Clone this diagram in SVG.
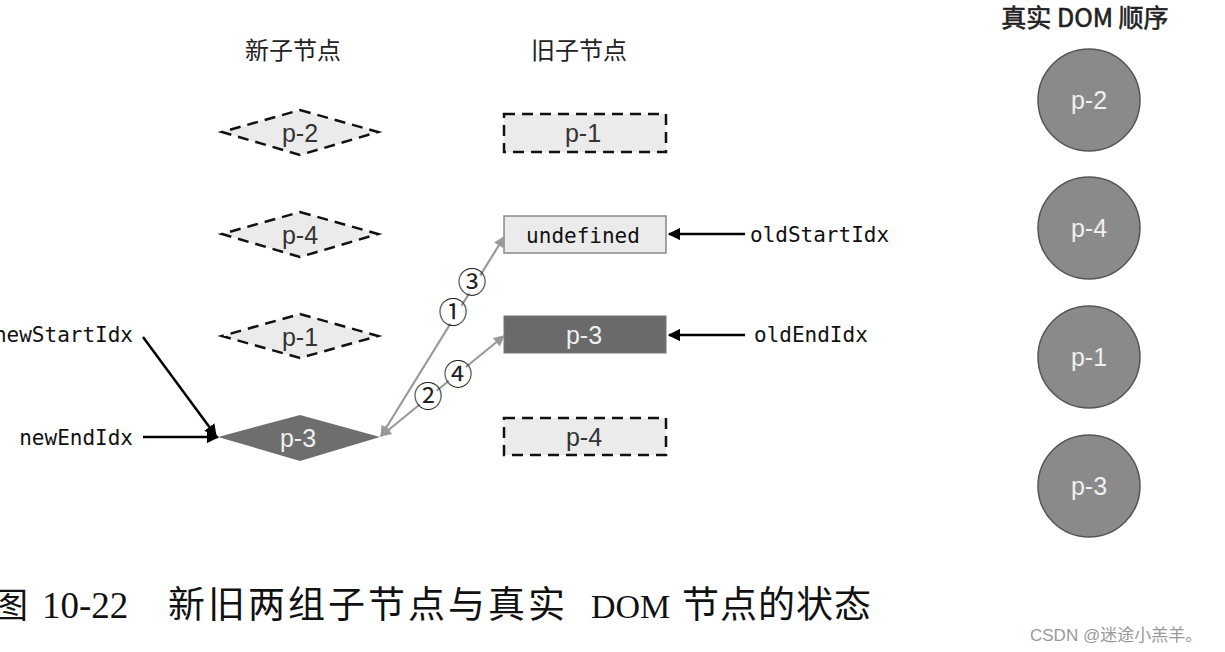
<svg xmlns="http://www.w3.org/2000/svg" width="1225" height="652" viewBox="0 0 1225 652">
<style>
.dash{fill:#ebebeb;stroke:#111;stroke-width:2.5;stroke-dasharray:11,7}
.lbl{font-family:"Liberation Sans",Arial,sans-serif;font-size:25px;fill:#333;text-anchor:middle}
.wl{font-family:"Liberation Sans",Arial,sans-serif;font-size:25px;fill:#f0f0f0;text-anchor:middle}
.mono{font-family:"DejaVu Sans Mono","Liberation Mono",monospace;font-size:21px;fill:#111}
.hd{font-family:"Noto Sans CJK SC",sans-serif;font-size:24px;fill:#222;text-anchor:middle}
.dom{fill:#8a8a8a;stroke:#555;stroke-width:1.5}
.blk{stroke:#000;stroke-width:2.5;fill:none}
.gry{stroke:#999;stroke-width:2.2;fill:none}
.num{font-family:"Noto Sans CJK SC","DejaVu Sans",sans-serif;font-size:29px;fill:#222;text-anchor:middle}
</style>
<defs>
<marker id="ab" viewBox="0 0 10 10" refX="9" refY="5" markerWidth="5" markerHeight="5" orient="auto-start-reverse"><path d="M0,0 L10,5 L0,10 z" fill="#000"/></marker>
<marker id="ag" viewBox="0 0 10 10" refX="9" refY="5" markerWidth="6" markerHeight="5" orient="auto-start-reverse"><path d="M0,0 L10,5 L0,10 z" fill="#999"/></marker>
</defs>
<rect width="1225" height="652" fill="#fff"/>

<text class="hd" x="293" y="59">新子节点</text>
<text class="hd" x="579" y="59">旧子节点</text>
<text x="1085" y="27" style="font-family:'Noto Sans CJK SC',sans-serif;font-size:25px;fill:#222;stroke:#222;stroke-width:0.6;text-anchor:middle">真实 DOM 顺序</text>

<g id="new-p2"><polygon class="dash" points="300,110 378,132 300,155 222,132"/><text class="lbl" x="300" y="142">p-2</text></g>
<g id="new-p4"><polygon class="dash" points="300,212 378,234 300,257 222,234"/><text class="lbl" x="300" y="244">p-4</text></g>
<g id="new-p1"><polygon class="dash" points="300,314 378,336 300,358 222,336"/><text class="lbl" x="300" y="346">p-1</text></g>
<g id="new-p3"><polygon points="300,415 380,437 300,461 218,437" fill="#6e6e6e"/><text class="wl" x="298" y="447">p-3</text></g>

<g id="old-p1"><rect class="dash" x="504" y="114" width="162" height="38"/><text class="lbl" x="583" y="142">p-1</text></g>
<g id="old-undef"><rect x="504" y="216" width="162" height="37" fill="#ebebeb" stroke="#888" stroke-width="1.5"/><text class="mono" x="583" y="243" text-anchor="middle">undefined</text></g>
<g id="old-p3"><rect x="504" y="316" width="162" height="37" fill="#6a6a6a" stroke="#777" stroke-width="1"/><text class="wl" x="584" y="344">p-3</text></g>
<g id="old-p4"><rect class="dash" x="504" y="418" width="162" height="37"/><text class="lbl" x="584" y="446">p-4</text></g>

<g id="dom-p2"><circle class="dom" cx="1089" cy="100" r="51"/><text class="wl" x="1089" y="109">p-2</text></g>
<g id="dom-p4"><circle class="dom" cx="1089" cy="228" r="51"/><text class="wl" x="1089" y="237">p-4</text></g>
<g id="dom-p1"><circle class="dom" cx="1089" cy="357" r="51"/><text class="wl" x="1089" y="366">p-1</text></g>
<g id="dom-p3"><circle class="dom" cx="1089" cy="486" r="51"/><text class="wl" x="1089" y="495">p-3</text></g>

<g id="pointer-labels">
<text class="mono" x="750" y="242">oldStartIdx</text>
<text class="mono" x="754" y="342">oldEndIdx</text>
<text class="mono" x="133" y="342" text-anchor="end">newStartIdx</text>
<text class="mono" x="133" y="445" text-anchor="end">newEndIdx</text>
</g>

<g id="connectors">
<line class="blk" x1="745" y1="234" x2="669" y2="234" marker-end="url(#ab)"/>
<line class="blk" x1="745" y1="335" x2="669" y2="335" marker-end="url(#ab)"/>
<line class="blk" x1="143" y1="337" x2="216" y2="436" marker-end="url(#ab)"/>
<line class="blk" x1="143" y1="437" x2="218" y2="437" marker-end="url(#ab)"/>
<line class="gry" x1="381" y1="436" x2="504" y2="237" marker-start="url(#ag)" marker-end="url(#ag)"/>
<line class="gry" x1="381" y1="436" x2="504" y2="336" marker-start="url(#ag)" marker-end="url(#ag)"/>
</g>

<g id="steps">
<circle cx="472" cy="283" r="11" fill="#fff"/><text class="num" x="472" y="293">③</text>
<circle cx="453" cy="313" r="11" fill="#fff"/><text class="num" x="453" y="323">①</text>
<circle cx="458" cy="375" r="11" fill="#fff"/><text class="num" x="458" y="385">④</text>
<circle cx="428" cy="397" r="11" fill="#fff"/><text class="num" x="428" y="407">②</text>
</g>

<g id="caption" style="fill:#111">
<text x="-7" y="618" style="font-family:'Noto Sans CJK SC',sans-serif;font-size:35px">图</text>
<text x="42" y="618" style="font-family:'Liberation Serif',serif;font-size:37px">10-22</text>
<text x="168" y="618" style="font-family:'Noto Sans CJK SC',sans-serif;font-size:37px;letter-spacing:3px">新旧两组子节点与真实</text>
<text x="591" y="618" style="font-family:'Liberation Serif',serif;font-size:34px">DOM</text>
<text x="682" y="618" style="font-family:'Noto Sans CJK SC',sans-serif;font-size:37px;letter-spacing:1px">节点的状态</text>
</g>
<text x="1030" y="641" style="font-family:'Liberation Sans','Noto Sans CJK SC',sans-serif;font-size:17px;fill:#999">CSDN @迷途小羔羊。</text>
</svg>
